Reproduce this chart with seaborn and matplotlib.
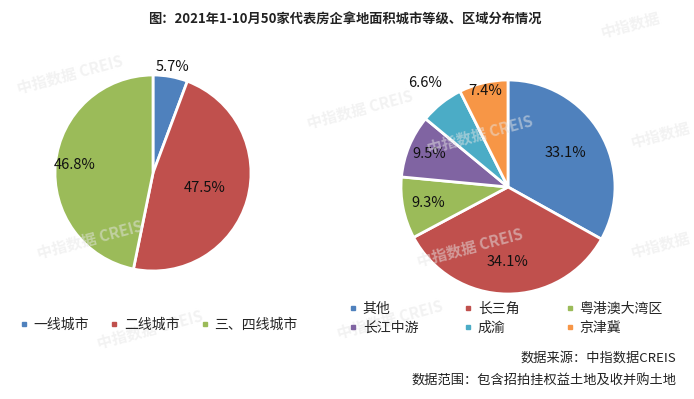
import numpy as np
import matplotlib
matplotlib.use("Agg")
import matplotlib.pyplot as plt
from matplotlib.lines import Line2D
import seaborn as sns

# 数据：城市等级
city_labels = ["一线城市", "二线城市", "三、四线城市"]
city_values = [5.7, 47.5, 46.8]
city_colors = ["#4F81BD", "#C0504D", "#9BBB59"]

# 数据：区域
region_labels = ["其他", "长三角", "粤港澳大湾区", "长江中游", "成渝", "京津冀"]
region_values = [33.1, 34.1, 9.3, 9.5, 6.6, 7.4]
region_colors = ["#4F81BD", "#C0504D", "#9BBB59", "#8064A2", "#4BACC6", "#F79646"]

title = "图：2021年1-10月50家代表房企拿地面积城市等级、区域分布情况"
note_source = "数据来源：中指数据CREIS"
note_scope = "数据范围：包含招拍挂权益土地及收并购土地"

sns.set_theme(style="white")
plt.rcParams["font.family"] = ["Noto Sans CJK SC", "DejaVu Sans"]

W, H = 694, 399
fig = plt.figure(figsize=(W / 100, H / 100), dpi=100)
fig.patch.set_facecolor("white")

LIM = 1.3


def pie_axes(cx, cy, r):
    side = 2 * LIM * r
    return fig.add_axes([(cx - side / 2) / W, (H - cy - side / 2) / H, side / W, side / H])


def draw_pie(ax, values, colors, label_r):
    wedges, _ = ax.pie(values, colors=colors, startangle=90, counterclock=False,
                       wedgeprops=dict(edgecolor="white", linewidth=2))
    ax.set_xlim(-LIM, LIM)
    ax.set_ylim(-LIM, LIM)
    ax.set_aspect("equal")
    ax.axis("off")
    for w, v, lr in zip(wedges, values, label_r):
        ang = np.deg2rad((w.theta1 + w.theta2) / 2)
        ax.text(lr * np.cos(ang), lr * np.sin(ang), f"{v}%", ha="center", va="center",
                fontsize=10.5, color="#111111", zorder=5)


# 左：城市等级
ax1 = pie_axes(153, 173, 98)
draw_pie(ax1, city_values, city_colors, [1.1, 0.55, 0.8])

# 右：区域
ax2 = pie_axes(508, 187, 107)
draw_pie(ax2, region_values, region_colors, [0.62, 0.7, 0.76, 0.8, 1.24, 0.92])

# 水印
marks = [(70, 75, "中指数据 CREIS"), (360, 110, "中指数据 CREIS"), (480, 135, "中指数据 CREIS"),
         (470, 248, "中指数据 CREIS"), (90, 240, "中指数据 CREIS"), (660, 135, "中指数据"),
         (660, 245, "中指数据"), (630, 25, "中指数据"), (150, 330, "中指数据 CREIS"),
         (390, 320, "中指数据 CREIS")]
for x, y, s in marks:
    fig.text(x / W, 1 - y / H, s, fontsize=11, color="#e6e6e6", rotation=15,
             ha="center", va="center", fontweight="bold", alpha=0.5, zorder=0)


def legend_handles(colors):
    return [Line2D([0], [0], marker="s", linestyle="", markersize=3.5,
                   markerfacecolor=c, markeredgecolor=c) for c in colors]


fig.legend(legend_handles(city_colors), city_labels, ncol=3, frameon=False,
           loc="center", bbox_to_anchor=(158 / W, 1 - 325 / H), fontsize=10,
           handlelength=0.8, handletextpad=0.3, columnspacing=1.4)

# 图例按行排列：两行三列
order = [0, 3, 1, 4, 2, 5]
r_handles = legend_handles(region_colors)
fig.legend([r_handles[i] for i in order], [region_labels[i] for i in order], ncol=3,
           frameon=False, loc="center", bbox_to_anchor=(505 / W, 1 - 318 / H), fontsize=10,
           handlelength=0.8, handletextpad=0.3, columnspacing=3.2, labelspacing=0.35)

fig.text(345 / W, 1 - 20 / H, title, ha="center", va="center", fontsize=9.5,
         fontweight="bold", color="#222222")
fig.text(676 / W, 1 - 358 / H, note_source, ha="right", va="center", fontsize=9.5,
         color="#222222")
fig.text(676 / W, 1 - 381 / H, note_scope, ha="right", va="center", fontsize=9.5,
         color="#222222")

fig.savefig("out.png", dpi=100, facecolor="white")
